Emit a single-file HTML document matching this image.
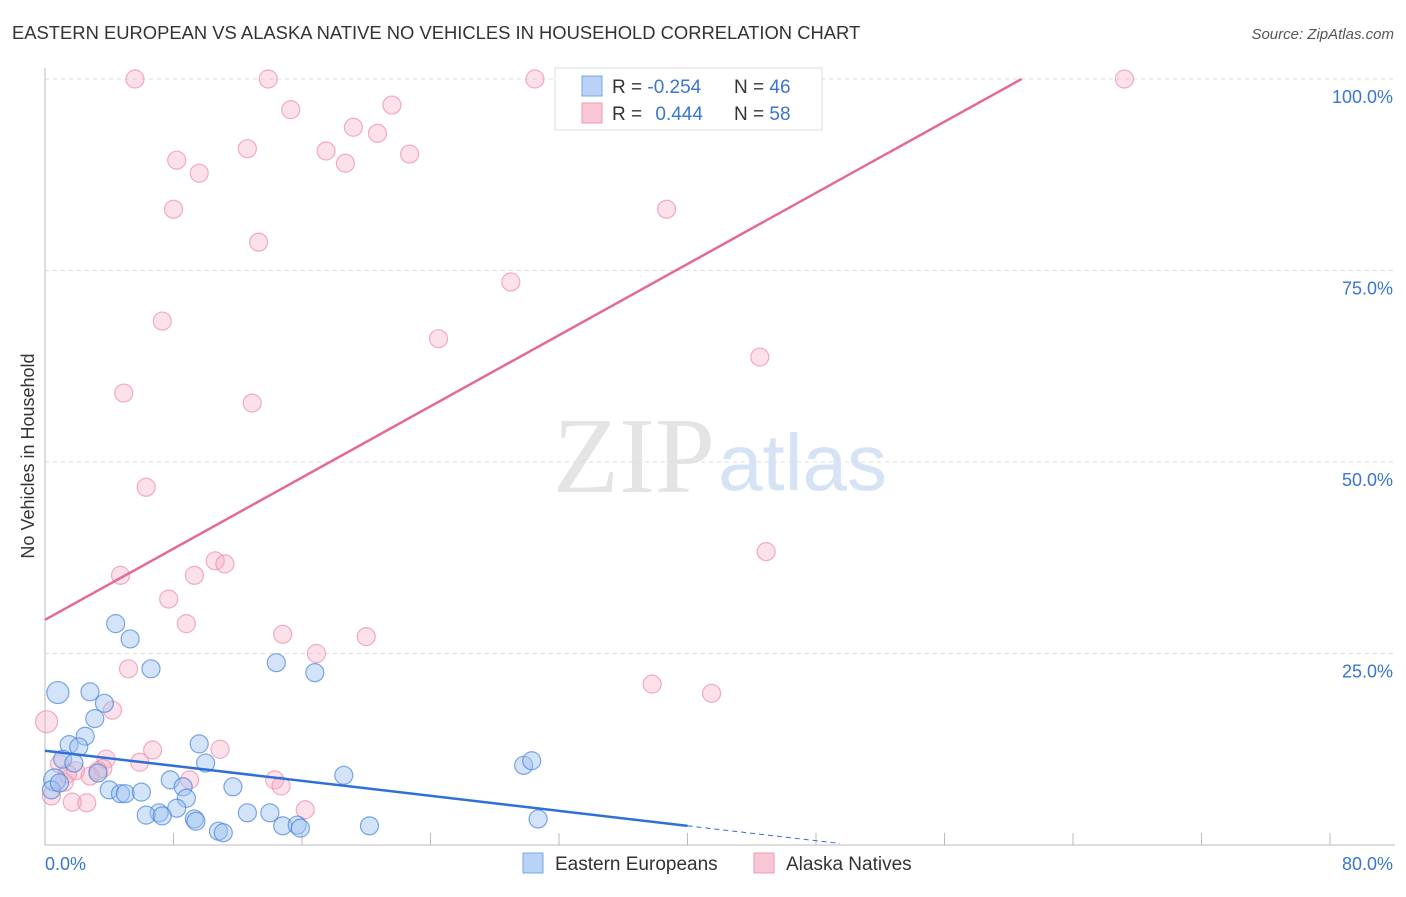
<!DOCTYPE html>
<html><head><meta charset="utf-8"><style>
body{margin:0;background:#fff;font-family:"Liberation Sans",sans-serif}
</style></head><body>
<svg id="c" width="1406" height="892" xmlns="http://www.w3.org/2000/svg" style="font-family:'Liberation Sans',sans-serif">
<text x="12" y="39" font-size="18.4" fill="#333">EASTERN EUROPEAN VS ALASKA NATIVE NO VEHICLES IN HOUSEHOLD CORRELATION CHART</text>
<text x="1394" y="39" font-size="15" fill="#555" text-anchor="end" font-style="italic">Source: ZipAtlas.com</text>
<text x="553" y="492" font-size="108" fill="#e4e4e4" font-family="Liberation Serif">ZIP</text>
<text x="718" y="490" font-size="80" fill="#d5e3f5">atlas</text>
<text x="34" y="456" font-size="18" fill="#333" text-anchor="middle" transform="rotate(-90 34 456)">No Vehicles in Household</text>
<g id="grid"></g><g id="pts"></g><g id="lines"></g>
<g>
<rect x="555" y="68" width="267" height="62" fill="#fff" stroke="#ddd"/>
<rect x="582" y="76" width="20" height="20" fill="#b8d3f5" stroke="#7aa7e6"/>
<rect x="582" y="103" width="20" height="20" fill="#f9c6d5" stroke="#ef9ab3"/>
<text x="612" y="93" font-size="19" fill="#333">R = <tspan fill="#3a75d0">-0.254</tspan></text>
<text x="734" y="93" font-size="19" fill="#333">N = <tspan fill="#3a75d0">46</tspan></text>
<text x="612" y="120" font-size="19" fill="#333">R = <tspan fill="#3a75d0" dx="8">0.444</tspan></text>
<text x="734" y="120" font-size="19" fill="#333">N = <tspan fill="#3a75d0">58</tspan></text>
</g>
<g>
<rect x="523" y="853" width="20" height="20" fill="#b8d3f5" stroke="#7aa7e6"/>
<text x="555" y="870" font-size="19" fill="#333">Eastern Europeans</text>
<rect x="754" y="853" width="20" height="20" fill="#f9c6d5" stroke="#ef9ab3"/>
<text x="786" y="870" font-size="19" fill="#333">Alaska Natives</text>
</g>
</svg>
<script>
const yTicks=[25,50,75,100];
const yTickLabels=["25.0%","50.0%","75.0%","100.0%"];
const xEnds=["0.0%","80.0%"];
const blueX=[0.8,2.8,4.4,5.3,6.6,3.7,3.1,2.5,1.5,2.1,1.1,1.8,3.3,0.6,0.4,4.0,4.7,5.0,6.0,7.8,8.6,8.8,9.6,10.0,11.7,8.2,7.1,6.3,7.3,9.3,9.4,10.8,11.1,12.6,14.0,14.8,15.7,15.9,20.2,14.4,16.8,18.6,29.8,30.3,30.7,0.9];
const blueY=[19.9,20.0,28.9,26.9,23.0,18.5,16.5,14.2,13.1,12.8,11.2,10.7,9.4,8.5,7.2,7.2,6.7,6.7,6.9,8.5,7.6,6.1,13.2,10.7,7.6,4.8,4.2,3.9,3.8,3.4,3.1,1.8,1.6,4.2,4.2,2.5,2.6,2.2,2.5,23.8,22.5,9.1,10.4,11.0,3.4,8.1];
const pinkX=[5.6,13.9,30.5,32.9,67.2,21.6,15.3,19.2,20.7,12.6,17.5,22.7,8.2,18.7,9.6,8.0,38.7,13.3,29.0,7.3,24.5,44.5,4.9,12.9,6.3,44.9,10.6,11.2,4.7,9.3,7.7,8.8,14.8,20.0,16.9,5.2,37.8,41.5,4.2,0.1,6.7,10.9,3.8,0.9,5.9,1.9,3.6,2.8,9.0,14.3,14.7,1.2,0.4,1.7,2.6,16.2,3.3,1.4];
const pinkY=[100,100,100,100,100,96.6,96.0,93.7,92.9,90.9,90.6,90.2,89.4,89.0,87.7,83.0,83.0,78.7,73.5,68.4,66.1,63.7,59.0,57.7,46.7,38.3,37.1,36.7,35.2,35.2,32.1,28.9,27.5,27.2,25.0,23.0,21.0,19.8,17.6,16.1,12.4,12.5,11.2,10.6,10.8,9.7,10.0,9.0,8.5,8.5,7.7,8.2,6.4,5.6,5.5,4.6,9.7,9.3];
const blueLine=[0,12.3,40,2.5,49.5,0.2];
const pinkLine=[0,29.4,60.8,100];
const ns="http://www.w3.org/2000/svg";
const X=v=>45+v/80*1285, Y=v=>845-v/100*766;
function mk(t,a,p){const e=document.createElementNS(ns,t);for(const k in a)e.setAttribute(k,a[k]);p.appendChild(e);return e;}
const g=document.getElementById('grid');
yTicks.forEach((t,i)=>{
const l=mk('line',{x1:45,x2:1395,y1:Y(t),y2:Y(t),stroke:'#ddd','stroke-dasharray':'4,4'},g);


const tx=mk('text',{x:1393,y:Y(t)+24,'font-size':18,fill:'#3a75d0','text-anchor':'end'},g);tx.textContent=yTickLabels[i];


});
mk('line',{x1:45,x2:45,y1:68,y2:845,stroke:'#bbb'},g);
mk('line',{x1:45,x2:1395,y1:845,y2:845,stroke:'#bbb'},g);
for(let i=1;i<=10;i++){const tk=mk('line',{x1:X(i*8),x2:X(i*8),y1:845,y2:833,stroke:'#bbb'},g);

}
let t1=mk('text',{x:45,y:870,'font-size':18,fill:'#3a75d0'},g);t1.textContent=xEnds[0];


let t2=mk('text',{x:1393,y:870,'font-size':18,fill:'#3a75d0','text-anchor':'end'},g);t2.textContent=xEnds[1];


const p=document.getElementById('pts');
pinkX.forEach((x,i)=>{const c=mk('circle',{cx:X(x),cy:Y(pinkY[i]),r:(i==39?11:9),fill:'rgba(246,170,195,0.35)',stroke:'rgba(236,140,170,0.7)','stroke-width':1.2},p);

});
blueX.forEach((x,i)=>{const c=mk('circle',{cx:X(x),cy:Y(blueY[i]),r:(i==0||i==13?11:9),fill:'rgba(160,195,240,0.45)',stroke:'rgba(70,130,220,0.7)','stroke-width':1.2},p);

});
const L=document.getElementById('lines');
let b=mk('line',{x1:X(blueLine[0]),y1:Y(blueLine[1]),x2:X(blueLine[2]),y2:Y(blueLine[3]),stroke:'#2f6fd8','stroke-width':2.5},L);


let bd=mk('line',{x1:X(blueLine[2]),y1:Y(blueLine[3]),x2:X(blueLine[4]),y2:Y(blueLine[5]),stroke:'#2f6fd8','stroke-width':1,'stroke-dasharray':'5,4'},L);


let pl=mk('line',{x1:X(pinkLine[0]),y1:Y(pinkLine[1]),x2:X(pinkLine[2]),y2:Y(pinkLine[3]),stroke:'#e46a96','stroke-width':2.5},L);


</script>
</body></html>
